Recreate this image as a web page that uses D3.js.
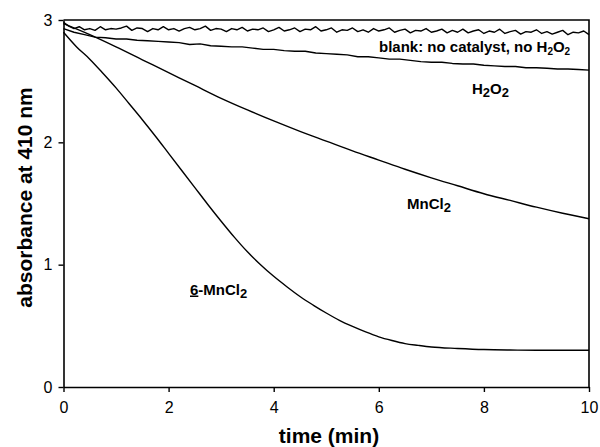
<!DOCTYPE html>
<html>
<head>
<meta charset="utf-8">
<script src="https://cdn.jsdelivr.net/npm/d3@7"></script>
<style>
  html, body { margin: 0; padding: 0; background: #fff; }
  svg { display: block; }
  text { font-family: "Liberation Sans", Arial, Helvetica, sans-serif; fill: #000; }
</style>
</head>
<body>
<svg id="chart" width="600" height="447"></svg>
<script>
// Absorbance at 410 nm versus time (min) for four reaction mixtures.

// blank: no catalyst, no H2O2 — sampled every 0.1 min
const blankTime = d3.range(0, 101).map(i => i / 10);
const blankAbs = [
  2.98, 2.95, 2.93, 2.945, 2.92, 2.93, 2.915, 2.945, 2.92, 2.93,
  2.925, 2.935, 2.95, 2.915, 2.935, 2.93, 2.905, 2.93, 2.92, 2.945,
  2.92, 2.93, 2.91, 2.93, 2.94, 2.92, 2.93, 2.95, 2.915, 2.93,
  2.925, 2.905, 2.93, 2.92, 2.94, 2.91, 2.925, 2.92, 2.935, 2.905,
  2.92, 2.94, 2.91, 2.92, 2.935, 2.905, 2.925, 2.92, 2.945, 2.91,
  2.92, 2.935, 2.90, 2.92, 2.915, 2.935, 2.905, 2.92, 2.90, 2.93,
  2.91, 2.92, 2.935, 2.90, 2.915, 2.925, 2.895, 2.915, 2.91, 2.93,
  2.90, 2.91, 2.925, 2.895, 2.915, 2.90, 2.925, 2.895, 2.91, 2.92,
  2.89, 2.91, 2.90, 2.925, 2.89, 2.905, 2.915, 2.885, 2.905, 2.90,
  2.92, 2.89, 2.905, 2.885, 2.90, 2.915, 2.88, 2.90, 2.895, 2.91,
  2.88
];

// H2O2 only — sampled every 0.2 min
const h2o2Time = d3.range(0, 51).map(i => i / 5);
const h2o2Abs = [
  2.93, 2.90, 2.88, 2.86, 2.855, 2.845, 2.845, 2.835, 2.83, 2.825,
  2.82, 2.815, 2.80, 2.805, 2.79, 2.785, 2.78, 2.78, 2.77, 2.76,
  2.76, 2.75, 2.745, 2.745, 2.73, 2.725, 2.72, 2.715, 2.70, 2.70,
  2.69, 2.68, 2.68, 2.67, 2.66, 2.655, 2.655, 2.645, 2.64, 2.64,
  2.63, 2.625, 2.62, 2.62, 2.61, 2.61, 2.605, 2.60, 2.60, 2.595,
  2.59
];

// MnCl2 — sampled every 0.5 min
const mnTime = d3.range(0, 21).map(i => i / 2);
const mnAbs = [
  2.97, 2.88, 2.78, 2.675, 2.57, 2.465, 2.36, 2.265, 2.175, 2.09,
  2.01, 1.93, 1.855, 1.78, 1.71, 1.645, 1.58, 1.525, 1.47, 1.42,
  1.375
];

// 6-MnCl2
const cat6Time = [0, 0.25, 0.5, 0.75, 1, 1.25, 1.5, 1.75, 2, 2.25, 2.5, 2.75, 3, 3.25,
  3.5, 3.75, 4, 4.25, 4.5, 4.75, 5, 5.25, 5.5, 5.75, 6, 6.25, 6.5, 6.75, 7, 7.5,
  8, 8.5, 9, 9.5, 10];
const cat6Abs = [2.90, 2.78, 2.68, 2.565, 2.445, 2.315, 2.185, 2.05, 1.91, 1.77, 1.63, 1.49,
  1.355, 1.225, 1.105, 1.00, 0.905, 0.82, 0.74, 0.67, 0.605, 0.545, 0.495, 0.45, 0.41,
  0.38, 0.355, 0.34, 0.327, 0.315, 0.306, 0.302, 0.30, 0.30, 0.30];

const xTicks = [0, 2, 4, 6, 8, 10];
const yTicks = [0, 1, 2, 3];

const svg = d3.select("#chart");
const plotLeft = 63.5, plotRight = 589, plotTop = 20, plotBottom = 387;

const x = d3.scaleLinear().domain([0, 10]).range([plotLeft, plotRight]);
const y = d3.scaleLinear().domain([0, 3]).range([plotBottom, plotTop]);

// plot frame (top and right edges)
svg.append("path")
  .attr("d", `M${plotLeft},${plotTop}H${plotRight}V${plotBottom}`)
  .attr("fill", "none").attr("stroke", "#000").attr("stroke-width", 1.6);

// axes
const xAxis = svg.append("g")
  .attr("transform", `translate(0,${plotBottom})`)
  .call(d3.axisBottom(x).tickValues(xTicks).tickFormat(d3.format("d"))
    .tickSizeInner(5).tickSizeOuter(0).tickPadding(10));
const yAxis = svg.append("g")
  .attr("transform", `translate(${plotLeft},0)`)
  .call(d3.axisLeft(y).tickValues(yTicks).tickFormat(d3.format("d"))
    .tickSizeInner(5).tickSizeOuter(0).tickPadding(6));

[xAxis, yAxis].forEach(g => {
  g.select(".domain").attr("stroke", "#000").attr("stroke-width", 1.6);
  g.selectAll(".tick line").attr("stroke", "#000").attr("stroke-width", 1.4);
  g.selectAll(".tick text").attr("font-size", 16).attr("fill", "#000")
    .style("font-family", "'Liberation Sans', Arial, sans-serif");
});

// axis titles
svg.append("text")
  .attr("x", 329).attr("y", 443)
  .attr("text-anchor", "middle")
  .attr("font-size", 21).attr("font-weight", "bold")
  .text("time (min)");

svg.append("text")
  .attr("transform", "translate(32,197.5) rotate(-90)")
  .attr("text-anchor", "middle")
  .attr("font-size", 21).attr("font-weight", "bold")
  .text("absorbance at 410 nm");

// curves
const line = d3.line()
  .x(d => x(d[0]))
  .y(d => y(d[1]));
const smooth = d3.line()
  .x(d => x(d[0]))
  .y(d => y(d[1]))
  .curve(d3.curveMonotoneX);

const series = [
  { t: blankTime, a: blankAbs, gen: line },
  { t: h2o2Time, a: h2o2Abs, gen: line },
  { t: mnTime, a: mnAbs, gen: smooth },
  { t: cat6Time, a: cat6Abs, gen: smooth }
];

const plot = svg.append("g");
series.forEach(s => {
  plot.append("path")
    .datum(d3.zip(s.t, s.a))
    .attr("d", s.gen)
    .attr("fill", "none")
    .attr("stroke", "#000")
    .attr("stroke-width", 1.4)
    .attr("stroke-linejoin", "round");
});

// series labels
function label(xp, yp, parts) {
  const t = svg.append("text")
    .attr("x", xp).attr("y", yp)
    .attr("font-size", 15).attr("font-weight", "bold");
  parts.forEach(p => {
    const ts = t.append("tspan").text(p.s);
    if (p.sub) ts.attr("font-size", p.sub);
    if (p.dy) ts.attr("dy", p.dy);
    if (p.underline) ts.attr("text-decoration", "underline");
  });
  return t;
}

label(379, 52, [
  { s: "blank: no catalyst, no H" },
  { s: "2", sub: 10, dy: 3 },
  { s: "O", dy: -3 },
  { s: "2", sub: 10, dy: 3 }
]);

label(472, 94, [
  { s: "H" },
  { s: "2", sub: 13, dy: 3 },
  { s: "O", dy: -3 },
  { s: "2", sub: 13, dy: 3 }
]);

label(407, 209, [
  { s: "MnCl" },
  { s: "2", sub: 13, dy: 3 }
]);

label(190, 294.5, [
  { s: "6", underline: true },
  { s: "-MnCl" },
  { s: "2", sub: 13, dy: 3 }
]);
</script>
</body>
</html>
